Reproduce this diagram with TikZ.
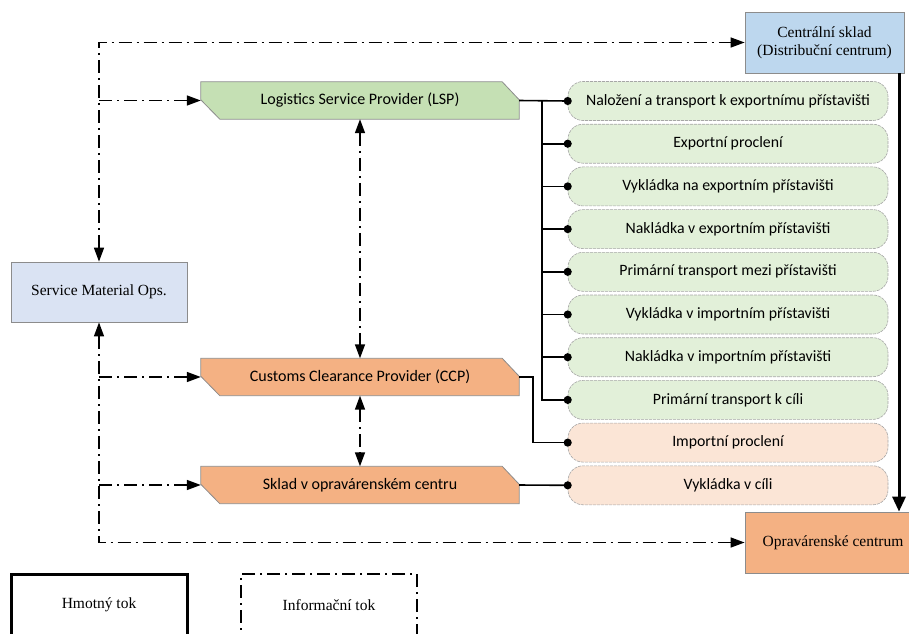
\documentclass[tikz,border=0pt]{standalone}
\usepackage{fontspec}
\setmainfont{Liberation Serif}
\newfontfamily\carl{Carlito}
\usetikzlibrary{arrows.meta,backgrounds}
\definecolor{lspgreen}{HTML}{C5E0B4}
\definecolor{listgreen}{HTML}{E2F0D9}
\definecolor{listorange}{HTML}{FBE5D6}
\definecolor{ccporange}{HTML}{F4B183}
\definecolor{smoblue}{HTML}{DAE3F3}
\definecolor{csblue}{HTML}{BDD7EE}
\definecolor{edgegray}{HTML}{8C8C8C}
\tikzset{
  serifbox/.style={draw=edgegray, line width=0.8pt, minimum width=#1, inner sep=2pt, align=center, font=\fontsize{15.5}{18}\selectfont},
  provider/.style={minimum width=318pt, minimum height=37pt, inner sep=0pt, font=\carl\fontsize{16}{19}\selectfont},
  listbox/.style={draw=gray!70, dashed, dash pattern=on 3pt off 1pt, line width=0.6pt, rounded corners=15pt, minimum width=320pt, minimum height=39pt, inner sep=0pt, font=\carl\fontsize{15.8}{18}\selectfont},
  lgreen/.style={listbox, fill=listgreen},
  lorange/.style={listbox, fill=listorange},
  info/.style={line width=1.5pt, dash pattern=on 13pt off 5pt on 2pt off 5pt},
  tip/.style={-{Triangle[length=14pt,width=10pt]}},
  tips/.style={{Triangle[length=14pt,width=10pt]}-{Triangle[length=14pt,width=10pt]}},
  bus/.style={line width=1.6pt, -{Circle[length=8pt]}, shorten >=-4pt},
  mat/.style={line width=3pt, -{Triangle[length=15pt,width=13pt]}},
}
\newcommand\chamfbox[2]{%
  \path[fill=#2, draw=edgegray, line width=0.8pt]
    (#1.north west) -- ([xshift=-17pt]#1.north east) -- ([yshift=-18pt]#1.north east)
    -- (#1.south east) -- ([xshift=19pt]#1.south west) -- ([yshift=-18pt]#1.north west) -- cycle;}
\begin{document}
\begin{tikzpicture}[x=1pt,y=-1pt]
\useasboundingbox (0,0) rectangle (909,633);
% serif boxes
\node[serifbox=176pt, minimum height=60pt, fill=smoblue] (smo) at (99,292) {Service Material Ops.};
\node[serifbox=159pt, minimum height=61pt, fill=csblue] (cs) at (824.5,42.5) {Centrální sklad\\(Distribuční centrum)};
\node[serifbox=176pt, minimum height=61pt, fill=ccporange] (oc) at (833,542.5) {Opravárenské centrum};
% providers
\node[provider] (lsp) at (360,100.5) {Logistics Service Provider (LSP)};
\node[provider] (ccp) at (360,377) {Customs Clearance Provider (CCP)};
\node[provider] (sklad) at (360,485) {Sklad v opravárenském centru};
\begin{scope}[on background layer]
  \chamfbox{lsp}{lspgreen}
  \chamfbox{ccp}{ccporange}
  \chamfbox{sklad}{ccporange}
\end{scope}
% list
\node[lgreen] (l1) at (728,101) {Naložení a transport k exportnímu přístavišti};
\node[lgreen] (l2) at (728,143.7) {Exportní proclení};
\node[lgreen] (l3) at (728,186.4) {Vykládka na exportním přístavišti};
\node[lgreen] (l4) at (728,229.1) {Nakládka v exportním přístavišti};
\node[lgreen] (l5) at (728,271.8) {Primární transport mezi přístavišti};
\node[lgreen] (l6) at (728,314.5) {Vykládka v importním přístavišti};
\node[lgreen] (l7) at (728,357.2) {Nakládka v importním přístavišti};
\node[lgreen] (l8) at (728,399.9) {Primární transport k cíli};
\node[lorange] (l9) at (728,442.6) {Importní proclení};
\node[lorange] (l10) at (728,485.3) {Vykládka v cíli};
% legend
\node[draw=black, line width=3pt, minimum width=176pt, minimum height=62pt, font=\fontsize{15.5}{18}\selectfont] (hm) at (99,605) {Hmotný tok};
\node[draw=black, info, minimum width=176pt, minimum height=62pt, font=\fontsize{15.5}{18}\selectfont] (inf) at (329,605) {Informační tok};
% material flow connectors
\coordinate (bustop) at ([xshift=23pt]lsp.east);
\draw[bus] (lsp.east) -- (l1.west);
\foreach \k in {2,...,8} { \draw[bus] (bustop) |- (l\k.west); }
\draw[bus] (ccp.east) -- ++(14,0) |- (l9.west);
\draw[bus] (sklad.east) -- (l10.west);
\draw[mat] ([xshift=74.5pt]cs.south) -- ([xshift=74.5pt]cs.south |- oc.north);
% information flow
\coordinate (tl) at (99,42.5);
\coordinate (bl) at (99,542.5);
\draw[info,tips] (smo.north) -- (tl) -- (cs.west);
\draw[info,tips] (smo.south) -- (bl) -- (oc.west);
\draw[info,tip] (tl |- lsp.west) -- (lsp.west);
\draw[info,tip] (tl |- ccp.west) -- (ccp.west);
\draw[info,tip] (tl |- sklad.west) -- (sklad.west);
\draw[info,tips] (lsp.south) -- (ccp.north);
\draw[info,tips] (ccp.south) -- (sklad.north);
\end{tikzpicture}
\end{document}
